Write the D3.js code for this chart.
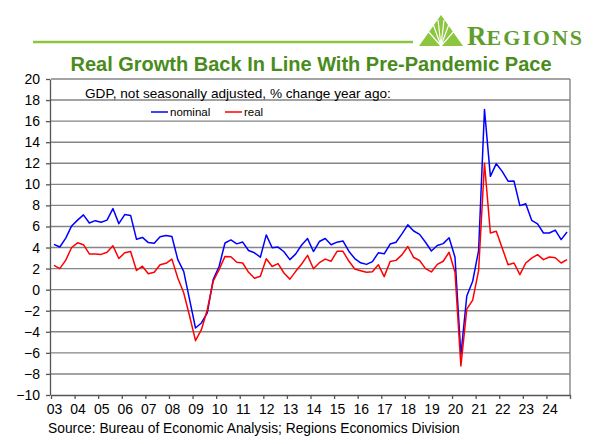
<!DOCTYPE html>
<html>
<head>
<meta charset="utf-8">
<script src="https://cdn.jsdelivr.net/npm/d3@7"></script>
<style>
  html, body { margin: 0; padding: 0; background: #fff; }
  svg { display: block; font-family: "Liberation Sans", Arial, sans-serif; }
</style>
</head>
<body>
<svg id="chart" width="600" height="444"></svg>
<script>
// ---- data ----
const startYear = 2003;
const yearLabels = ["03","04","05","06","07","08","09","10","11","12","13","14","15","16","17","18","19","20","21","22","23","24"];
const yTicks = [-10,-8,-6,-4,-2,0,2,4,6,8,10,12,14,16,18,20];
const nominal = [
  4.3, 4.05, 4.9, 6.05, 6.6, 7.1, 6.33, 6.55, 6.4, 6.6, 7.7, 6.27, 7.13, 7.05, 4.78, 4.96,
  4.47, 4.4, 5.03, 5.15, 5.05, 2.85, 1.74, -0.95, -3.64, -3.16, -2.2, 0.95, 2.2, 4.43, 4.72, 4.35,
  4.52, 3.72, 3.5, 3.08, 5.2, 3.98, 4.04, 3.6, 2.85, 3.4, 4.24, 4.85, 3.62, 4.57, 4.86, 4.27,
  4.51, 4.63, 3.65, 2.95, 2.55, 2.4, 2.66, 3.5, 3.4, 4.33, 4.5, 5.3, 6.15, 5.57, 5.25, 4.5,
  3.67, 4.19, 4.37, 4.93, 3.08, -6.2, -0.6, 0.8, 3.7, 17.1, 10.76, 11.96, 11.23, 10.3, 10.32, 7.98,
  8.16, 6.58, 6.25, 5.38, 5.38, 5.66, 4.75, 5.47
];
const real = [
  2.3, 2.0, 2.8, 4.0, 4.45, 4.27, 3.39, 3.39, 3.35, 3.55, 4.17, 2.96, 3.5, 3.62, 1.82, 2.23,
  1.51, 1.66, 2.37, 2.5, 2.9, 1.1, -0.3, -2.5, -4.84, -3.8, -1.9, 0.8, 1.9, 3.16, 3.12, 2.6,
  2.53, 1.65, 1.08, 1.28, 2.94, 2.2, 2.47, 1.58, 1.0, 1.74, 2.44, 3.26, 1.98, 2.56, 2.9, 2.7,
  3.64, 3.64, 2.72, 1.96, 1.8, 1.65, 1.7, 2.37, 1.24, 2.68, 2.78, 3.3, 4.1, 3.05, 2.77, 2.0,
  1.68, 2.4, 2.7, 3.55, 1.65, -7.25, -1.84, -1.0, 1.8, 12.0, 5.38, 5.54, 3.96, 2.37, 2.53, 1.42,
  2.53, 3.0, 3.32, 2.85, 3.1, 3.03, 2.53, 2.85
];
const seriesNames = ["nominal", "real"];
const seriesColors = ["#0000ff", "#ff0000"];

// ---- layout ----
const svg = d3.select("#chart");
const plot = { left: 51, right: 570, top: 79, bottom: 395 };

const x = d3.scaleLinear().domain([startYear, startYear + yearLabels.length]).range([plot.left, plot.right]);
const y = d3.scaleLinear().domain([-10, 20]).range([plot.bottom, plot.top]);
const qx = i => x(startYear + (i + 0.5) / 4);

// header line + logo
const green = "#8cc63e";
svg.append("line").attr("x1", 33).attr("x2", 413).attr("y1", 42).attr("y2", 42)
  .attr("stroke", green).attr("stroke-width", 2.5);

const logo = svg.append("g");
logo.append("path").attr("d", "M419,46 L441,15 L463,46 Z").attr("fill", green);
[[-14,30],[-8,24],[-3,20],[3,20],[8,24],[14,30]].forEach(([dx, dy]) => {
  logo.append("line").attr("x1", 441).attr("y1", 46).attr("x2", 441 + dx).attr("y2", dy)
    .attr("stroke", "#fff").attr("stroke-width", 1.2);
});
const reg = svg.append("text").attr("x", 467).attr("y", 45)
  .attr("font-family", "'Liberation Serif', serif").attr("fill", "#5f9e2d").attr("font-weight", "bold");
reg.append("tspan").attr("font-size", 27).text("R");
reg.append("tspan").attr("font-size", 22).attr("letter-spacing", 2).text("EGIONS");

// title
svg.append("text").attr("x", 311).attr("y", 71).attr("text-anchor", "middle")
  .attr("font-size", 20).attr("font-weight", "bold").attr("fill", "#4a8c1c")
  .text("Real Growth Back In Line With Pre-Pandemic Pace");

// gridlines
svg.append("g").selectAll("line").data(yTicks.filter(v => v > -10)).join("line")
  .attr("x1", plot.left).attr("x2", plot.right)
  .attr("y1", d => y(d)).attr("y2", d => y(d))
  .attr("stroke", "#858585").attr("stroke-width", 1.4);

// right border
svg.append("line").attr("x1", plot.right).attr("x2", plot.right)
  .attr("y1", plot.top).attr("y2", plot.bottom).attr("stroke", "#858585").attr("stroke-width", 1.4);

// y axis
const yAxis = svg.append("g").attr("transform", `translate(${plot.left - 1},0)`)
  .call(d3.axisLeft(y).tickValues(yTicks).tickSize(4).tickSizeOuter(0).tickFormat(d3.format("d")));
yAxis.selectAll("path, line").attr("stroke", "#555").attr("stroke-width", 1.3);
yAxis.selectAll("text").attr("font-size", 14).attr("fill", "#000")
  .attr("font-family", "'Liberation Sans', Arial, sans-serif").attr("x", -10);

// x axis
const years = d3.range(startYear, startYear + yearLabels.length + 1);
const xAxis = svg.append("g").attr("transform", `translate(0,${plot.bottom})`)
  .call(d3.axisBottom(x).tickValues(years).tickSize(4).tickSizeOuter(0)
    .tickFormat((d, i) => yearLabels[i] !== undefined ? yearLabels[i] : ""));
xAxis.selectAll("path, line").attr("stroke", "#555").attr("stroke-width", 1.3);
xAxis.selectAll("text").attr("font-size", 14).attr("fill", "#000")
  .attr("font-family", "'Liberation Sans', Arial, sans-serif").attr("dx", 3).attr("y", 9);

// lines
const line = d3.line().x((d, i) => qx(i)).y(d => y(d));
[nominal, real].forEach((s, k) => {
  svg.append("path").datum(s).attr("d", line).attr("fill", "none")
    .attr("stroke", seriesColors[k]).attr("stroke-width", 1.5).attr("stroke-linejoin", "round");
});

// subtitle
svg.append("text").attr("x", 85).attr("y", 98).attr("font-size", 13.6).attr("fill", "#000")
  .text("GDP, not seasonally adjusted, % change year ago:");

// legend
const legX = [151, 225];
seriesNames.forEach((n, k) => {
  svg.append("line").attr("x1", legX[k]).attr("x2", legX[k] + 17).attr("y1", 112).attr("y2", 112)
    .attr("stroke", seriesColors[k]).attr("stroke-width", 1.5);
  svg.append("text").attr("x", legX[k] + 19).attr("y", 116).attr("font-size", 11.5).attr("fill", "#000").text(n);
});

// source
svg.append("text").attr("x", 48).attr("y", 433).attr("font-size", 13.8).attr("fill", "#000")
  .text("Source: Bureau of Economic Analysis; Regions Economics Division");
</script>
</body>
</html>
